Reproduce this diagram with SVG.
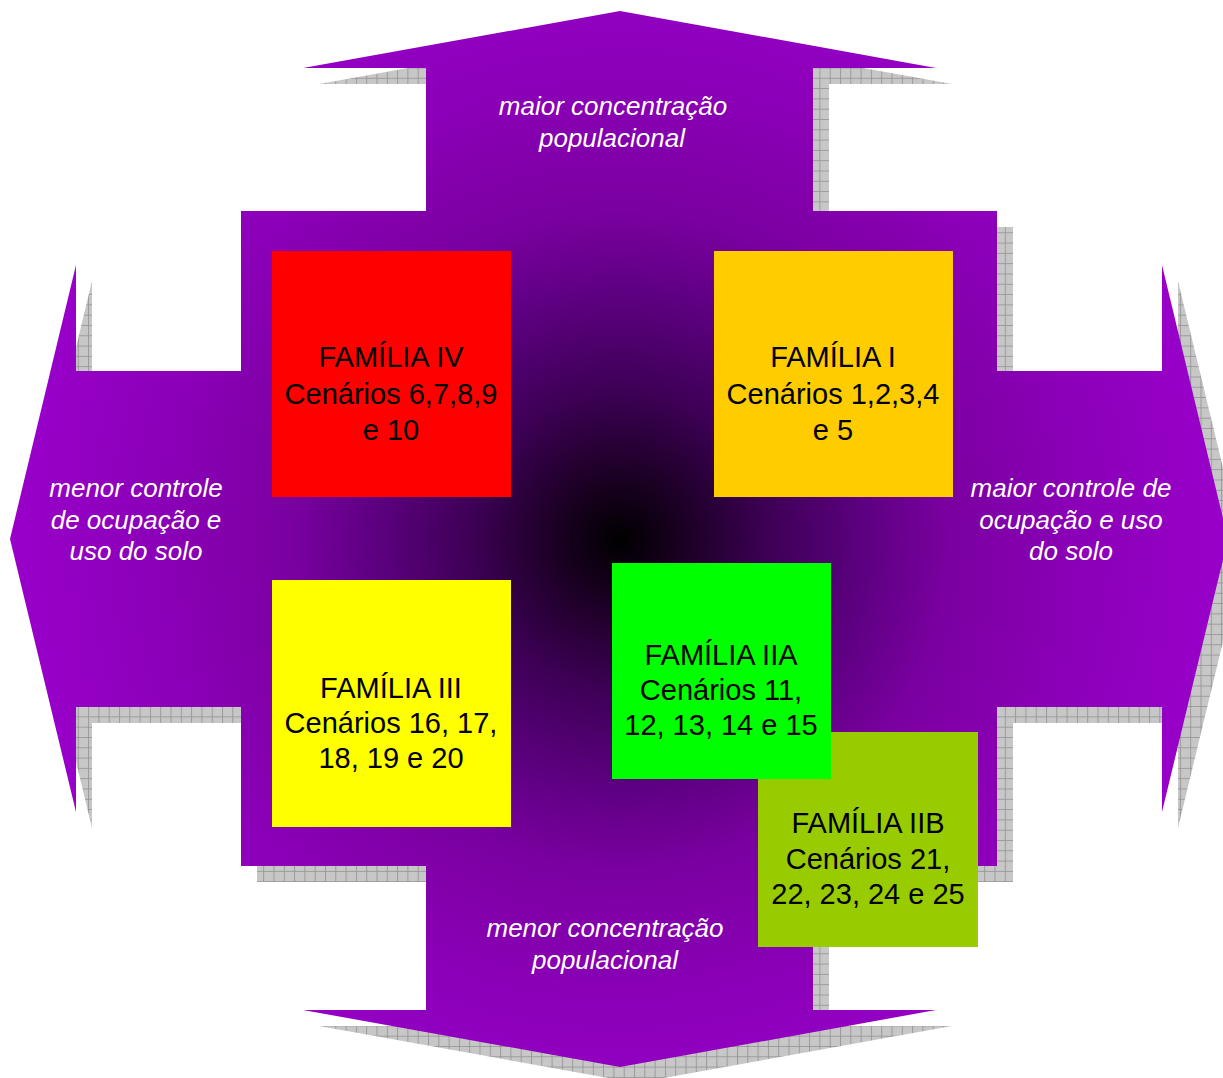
<svg xmlns="http://www.w3.org/2000/svg" width="1223" height="1078" viewBox="0 0 1223 1078">
<style>
.box{stroke:none}
.t{font-family:"Liberation Sans",Arial,sans-serif;font-size:29px;fill:#000;text-anchor:middle}
.lbl{font-family:"Liberation Sans",Arial,sans-serif;font-size:26px;font-style:italic;fill:#fff;text-anchor:middle}
</style>
<defs>
<pattern id="chk" width="2" height="2" patternUnits="userSpaceOnUse"><rect width="2" height="2" fill="#d6d6d6"/><rect width="1" height="1" fill="#b8b8b8"/><rect x="1" y="1" width="1" height="1" fill="#b8b8b8"/></pattern>
<pattern id="grid" width="10.3" height="10.3" patternUnits="userSpaceOnUse"><rect width="10.3" height="10.3" fill="url(#chk)"/><path d="M0 0.5H10.3M0.5 0V10.3" stroke="#9a9a9a" stroke-width="1"/></pattern>
<radialGradient id="rg" gradientUnits="userSpaceOnUse" cx="620" cy="540" r="620">
<stop offset="0" stop-color="#000000"/>
<stop offset="0.1" stop-color="#1a0022"/>
<stop offset="0.24" stop-color="#3d0055"/>
<stop offset="0.4" stop-color="#5e0082"/>
<stop offset="0.53" stop-color="#7a00a0"/>
<stop offset="0.73" stop-color="#8a00b6"/>
<stop offset="1" stop-color="#9a00cc"/>
</radialGradient>
<path id="crossPath" d="M620 11 L936 68 L813 68 L813 211 L997 211 L997 371 L1162 371 L1162 265 L1228 539 L1162 812 L1162 707 L997 707 L997 866 L813 866 L813 1010 L936 1010 L620 1067 L303 1010 L426 1010 L426 866 L241 866 L241 707 L76 707 L76 812 L10 539 L76 265 L76 371 L241 371 L241 211 L426 211 L426 68 L303 68 Z"/>
</defs>
<rect width="1223" height="1078" fill="#fff"/>
<g id="cross">
<use href="#crossPath" transform="translate(16,16)" fill="url(#grid)"/>
<use href="#crossPath" fill="url(#rg)"/>
<text class="lbl"><tspan x="613" y="115">maior concentração</tspan><tspan x="612" y="147">populacional</tspan></text>
<text class="lbl"><tspan x="136" y="497">menor controle</tspan><tspan x="136" y="529">de ocupação e</tspan><tspan x="136" y="560">uso do solo</tspan></text>
<text class="lbl"><tspan x="1071" y="497">maior controle de</tspan><tspan x="1071" y="529">ocupação e uso</tspan><tspan x="1071" y="560">do solo</tspan></text>
<text class="lbl"><tspan x="605" y="937">menor concentração</tspan><tspan x="605" y="969">populacional</tspan></text>
</g>
<g id="familia-iv">
<rect class="box" x="272" y="251" width="239" height="246" fill="#ff0000"/>
<text class="t"><tspan x="391" y="367">FAMÍLIA IV</tspan><tspan x="391" y="404">Cenários 6,7,8,9</tspan><tspan x="391" y="440">e 10</tspan></text>
</g>
<g id="familia-i">
<rect class="box" x="714" y="251" width="239" height="246" fill="#ffcc00"/>
<text class="t"><tspan x="833" y="367">FAMÍLIA I</tspan><tspan x="833" y="404">Cenários 1,2,3,4</tspan><tspan x="833" y="440">e 5</tspan></text>
</g>
<g id="familia-iii">
<rect class="box" x="272" y="580" width="239" height="247" fill="#ffff00"/>
<text class="t"><tspan x="391" y="698">FAMÍLIA III</tspan><tspan x="391" y="733">Cenários 16, 17,</tspan><tspan x="391" y="768">18, 19 e 20</tspan></text>
</g>
<g id="familia-iib">
<rect class="box" x="758" y="732" width="220" height="215" fill="#99cc00"/>
<text class="t"><tspan x="868" y="833">FAMÍLIA IIB</tspan><tspan x="868" y="869">Cenários 21,</tspan><tspan x="868" y="904">22, 23, 24 e 25</tspan></text>
</g>
<g id="familia-iia">
<rect class="box" x="612" y="563" width="219" height="216" fill="#00ff00"/>
<text class="t"><tspan x="721" y="665">FAMÍLIA IIA</tspan><tspan x="721" y="700">Cenários 11,</tspan><tspan x="721" y="735">12, 13, 14 e 15</tspan></text>
</g>
</svg>
